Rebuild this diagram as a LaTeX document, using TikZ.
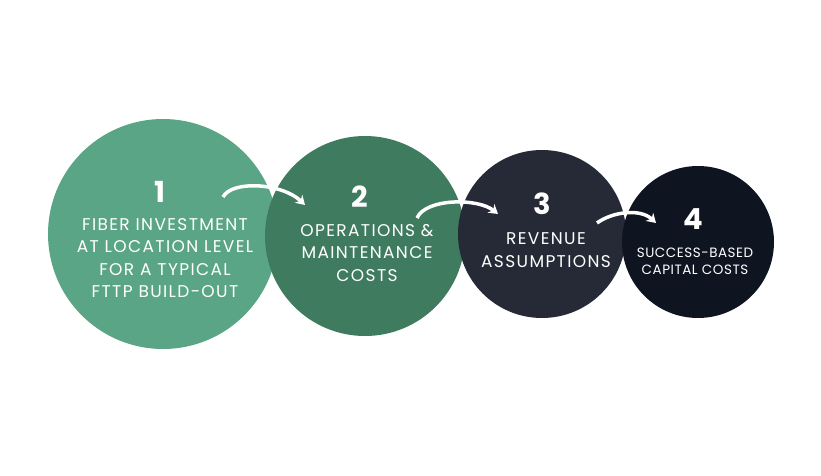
\documentclass[tikz,border=0pt]{standalone}
\usepackage{fontspec}
\setmainfont{Poppins}
\usetikzlibrary{arrows.meta, positioning}
\definecolor{stepA}{HTML}{5AA586}
\definecolor{stepB}{HTML}{3F7B5E}
\definecolor{stepC}{HTML}{252A36}
\definecolor{stepD}{HTML}{0F1520}

\begin{document}
\begin{tikzpicture}[
    x=1pt, y=-1pt,
    disc/.style={
        circle,
        inner sep=0pt
    },
    num/.style={
        text=white,
        font=\fontsize{29}{29}\selectfont\bfseries
    },
    label/.style={
        text=white,
        align=center,
        font=\fontsize{17}{22.5}\selectfont\addfontfeatures{LetterSpace=8}
    },
    flow/.style={
        -{Stealth[length=9pt,width=11pt]},
        white,
        line width=3.5pt
    }
]
\useasboundingbox (0,0) rectangle (821,476);

% Circles
\node[disc, fill=stepA, minimum size=230pt] (c1) at (163,234) {};
\node[disc, fill=stepB, minimum size=200pt] (c2) at (365,236) {};
\node[disc, fill=stepC, minimum size=168pt] (c3) at (542,234) {};
\node[disc, fill=stepD, minimum size=152pt] (c4) at (698,242) {};

% Numbers
\node[num] (n1) at (160,192) {1};
\node[num] (n2) at (360,197) {2};
\node[num] (n3) at (542,204) {3};
\node[num] (n4) at (693,219) {4};

% Texts
\node[label] (t1) at (165,258) {FIBER INVESTMENT\\AT LOCATION LEVEL\\FOR A TYPICAL\\FTTP BUILD-OUT};
\node[label] (t2) at (367,253) {OPERATIONS \&\\MAINTENANCE\\COSTS};
\node[label] (t3) at (546,250) {REVENUE\\ASSUMPTIONS};
\node[label, font=\fontsize{13.5}{17}\selectfont\addfontfeatures{LetterSpace=4}] (t4) at (695,261) {SUCCESS-BASED\\CAPITAL COSTS};

% Arrows
\coordinate (a1s) at (223,197);
\coordinate (a1e) at (305,205);
\coordinate (a2s) at (417,218);
\coordinate (a2e) at (498,214);
\coordinate (a3s) at (597,223);
\coordinate (a3e) at (656,223);
\draw[flow] (a1s) .. controls (232,180) and (282,183) .. (a1e);
\draw[flow] (a2s) .. controls (426,198) and (478,198) .. (a2e);
\draw[flow] (a3s) .. controls (612,212) and (640,208) .. (a3e);
\end{tikzpicture}
\end{document}
